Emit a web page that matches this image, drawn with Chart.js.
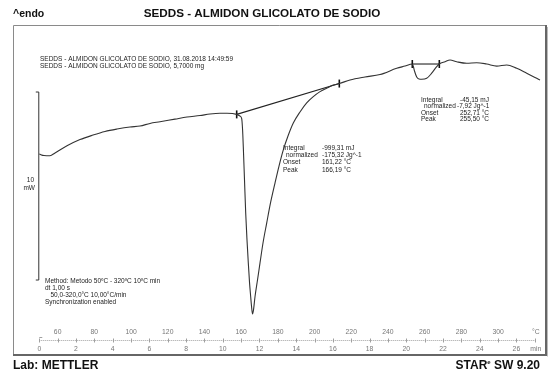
<!DOCTYPE html>
<html><head><meta charset="utf-8">
<script src="https://cdn.jsdelivr.net/npm/chart.js@4/dist/chart.umd.min.js"></script>
<style>html,body{margin:0;padding:0;background:#fff}canvas{display:block}</style>
</head><body>
<canvas id="c" width="557" height="381"></canvas>
<script>
// DSC curve: temperature (°C) vs heat flow (mW)
const temperature = [50.0,52.56,55.83,58.56,65.10,72.18,79.26,85.80,92.34,99.43,104.88,110.33,115.78,123.95,130.49,137.57,143.02,148.47,152.29,157.57,159.37,160.30,160.79,161.17,161.83,162.48,163.19,163.90,164.55,165.20,165.64,166.19,166.73,167.55,168.91,170.28,171.91,173.92,176.0,178.45,180.63,182.97,185.53,188.42,192.07,195.72,199.15,202.97,206.78,210.22,213.49,219.32,227.49,235.67,244.77,249.29,253.27,253.92,254.47,255.67,256.92,258.39,261.12,263.84,266.57,267.99,271.09,273.82,277.47,282.92,288.37,293.82,299.26,304.71,310.16,315.61,321.06,322.86];
const heatFlow = [0.05,-0.03,-0.04,0.11,0.49,0.82,1.06,1.25,1.38,1.49,1.54,1.68,1.77,1.91,2.02,2.10,2.18,2.22,2.22,2.16,2.07,1.94,1.33,0.44,-1.33,-3.09,-4.52,-5.74,-6.76,-7.54,-8.03,-8.46,-8.24,-7.54,-6.65,-5.74,-4.68,-3.62,-2.55,-1.49,-0.59,0.27,1.01,1.70,2.29,2.77,3.09,3.37,3.56,3.72,3.80,3.99,4.15,4.28,4.61,4.73,4.84,4.68,4.47,4.15,4.04,4.03,4.08,4.35,4.70,4.84,4.96,5.05,4.96,4.88,4.91,4.84,4.73,4.79,4.61,4.35,4.08,3.99];
// integration baselines
const baseline1T = [157.57, 213.49];
const baseline1Y = [2.16, 3.80];
const baseline2T = [253.27, 267.99];
const baseline2Y = [4.84, 4.84];
// axis ticks
const tempTickLabels = [60,80,100,120,140,160,180,200,220,240,260,280,300];
const timeTickLabels = [0,2,4,6,8,10,12,14,16,18,20,22,24,26];
const minorTicks = [50,60,70,80,90,100,110,120,130,140,150,160,170,180,190,200,210,220,230,240,250,260,270,280,290,300,310,320];
const tempUnit = '°C';
const timeUnit = 'min';
const scaleBarTopMw = 3.35;
const scaleBarMw = 10;
// texts
const title = 'SEDDS - ALMIDON GLICOLATO DE SODIO';
const sampleLines = ['SEDDS - ALMIDON GLICOLATO DE SODIO, 31.08.2018 14:49:59','SEDDS - ALMIDON GLICOLATO DE SODIO, 5,7000 mg'];
const methodLines = ['Method: Metodo 50ºC - 320ºC 10ºC min','dt 1,00 s','   50,0-320,0°C 10,00°C/min','Synchronization enabled'];
const peak1Labels = ['Integral','normalized','Onset','Peak'];
const peak1Values = ['-999,31 mJ','-175,32 Jg^-1','161,22 °C','166,19 °C'];
const peak2Labels = ['Integral','normalized','Onset','Peak'];
const peak2Values = ['-45,15 mJ','-7,92 Jg^-1','252,71 °C','255,50 °C'];

const FR = {l:13, t:25, r:546, b:355};
const SMALL = '6.5px "Liberation Sans", Arial, sans-serif';

const curve = temperature.map((t,i)=>({x:t,y:heatFlow[i]}));
const base1 = baseline1T.map((t,i)=>({x:t,y:baseline1Y[i]}));
const base2 = baseline2T.map((t,i)=>({x:t,y:baseline2Y[i]}));

const decor = {
  id:'decor',
  afterDraw(chart){
    const ctx = chart.ctx, xs = chart.scales.x, ys = chart.scales.y;
    ctx.save();
    // frame
    ctx.strokeStyle = '#8a8a8a'; ctx.lineWidth = 1;
    ctx.beginPath();
    ctx.moveTo(FR.l+0.5, FR.b); ctx.lineTo(FR.l+0.5, FR.t+0.5); ctx.lineTo(FR.r, FR.t+0.5);
    ctx.stroke();
    ctx.strokeStyle = '#666'; ctx.lineWidth = 2;
    ctx.beginPath();
    ctx.moveTo(FR.r, FR.t); ctx.lineTo(FR.r, FR.b); ctx.lineTo(FR.l, FR.b);
    ctx.stroke();
    ctx.strokeStyle = '#bbb'; ctx.lineWidth = 1;
    ctx.beginPath(); ctx.moveTo(FR.r+1.5, FR.t+2); ctx.lineTo(FR.r+1.5, FR.b+1.5); ctx.stroke();

    // headings
    ctx.fillStyle = '#111'; ctx.textBaseline = 'middle';
    ctx.font = 'bold 10.5px "Liberation Sans", Arial, sans-serif';
    ctx.textAlign = 'left'; ctx.fillText('^endo', 13, 14);
    ctx.font = 'bold 11.7px "Liberation Sans", Arial, sans-serif';
    ctx.textAlign = 'center'; ctx.fillText(title, 262, 14);
    ctx.font = 'bold 12px "Liberation Sans", Arial, sans-serif';
    ctx.textAlign = 'left'; ctx.fillText('Lab: METTLER', 13, 366);
    // STARe SW 9.20
    const right = 540;
    const w2 = ctx.measureText(' SW 9.20').width;
    ctx.textAlign = 'right'; ctx.fillText(' SW 9.20', right, 366);
    ctx.font = 'bold 6px "Liberation Sans", Arial, sans-serif';
    const we = ctx.measureText('e').width;
    ctx.fillText('e', right - w2, 362);
    ctx.font = 'bold 12px "Liberation Sans", Arial, sans-serif';
    ctx.fillText('STAR', right - w2 - we, 366);

    // small texts
    ctx.font = SMALL; ctx.fillStyle = '#222'; ctx.textAlign = 'left';
    sampleLines.forEach((s,i)=>ctx.fillText(s, 40, 59 + i*7));
    methodLines.forEach((s,i)=>ctx.fillText(s, 45, 281 + i*7.2));
    peak1Labels.forEach((s,i)=>{ ctx.fillText(s, i===1?286:283, 148 + i*7.3); ctx.fillText(peak1Values[i], 322, 148 + i*7.3); });
    peak2Labels.forEach((s,i)=>{ ctx.fillText(s, i===1?424:421, 100 + i*6.4); ctx.fillText(peak2Values[i], i===1?457:460, 100 + i*6.4); });

    // scale bar 10 mW
    const sx = xs.getPixelForValue(temperature[0]) - 0.5;
    const yTop = ys.getPixelForValue(scaleBarTopMw), yBot = ys.getPixelForValue(scaleBarTopMw - scaleBarMw);
    ctx.strokeStyle = '#333'; ctx.lineWidth = 1;
    ctx.beginPath();
    ctx.moveTo(sx-3, yTop); ctx.lineTo(sx, yTop); ctx.lineTo(sx, yBot); ctx.lineTo(sx-3, yBot);
    ctx.stroke();
    ctx.textAlign = 'right';
    ctx.fillText('10', 34, 180); ctx.fillText('mW', 35, 188);

    // bottom axis
    const ay = 340.5;
    const x0 = xs.getPixelForValue(50), x1 = xs.getPixelForValue(320);
    ctx.strokeStyle = '#a0a0a0'; ctx.setLineDash([1,1]);
    ctx.beginPath(); ctx.moveTo(x0, ay); ctx.lineTo(x1, ay); ctx.stroke();
    ctx.setLineDash([]);
    ctx.beginPath();
    minorTicks.forEach(t=>{ const px = Math.round(xs.getPixelForValue(t))+0.5; ctx.moveTo(px, ay-2); ctx.lineTo(px, ay+2); });
    ctx.moveTo(x0, ay-3); ctx.lineTo(x0+3, ay-3);
    ctx.stroke();
    ctx.fillStyle = '#777'; ctx.textAlign = 'center';
    ctx.font = '6.8px "Liberation Sans", Arial, sans-serif';
    tempTickLabels.forEach(t=>ctx.fillText(String(t), xs.getPixelForValue(t), 332));
    ctx.fillText(tempUnit, xs.getPixelForValue(320)+1, 332);
    timeTickLabels.forEach(m=>ctx.fillText(String(m), xs.getPixelForValue(50 + 10*m), 349));
    ctx.fillText(timeUnit, xs.getPixelForValue(320)+1, 349);
    ctx.restore();
  }
};

new Chart(document.getElementById('c'), {
  type: 'scatter',
  data: { datasets: [
    { data: curve, showLine: true, borderColor: '#333', borderWidth: 1.1, pointRadius: 0, cubicInterpolationMode: 'monotone', fill: false },
    { data: base1, showLine: true, borderColor: '#222', borderWidth: 1.1, pointStyle: 'line', rotation: 90, pointRadius: 4, pointBorderWidth: 1.6, pointBorderColor: '#111' },
    { data: base2, showLine: true, borderColor: '#222', borderWidth: 1.1, pointStyle: 'line', rotation: 90, pointRadius: 4, pointBorderWidth: 1.6, pointBorderColor: '#111' }
  ]},
  options: {
    responsive: false, animation: false, devicePixelRatio: 1,
    layout: { padding: { left: FR.l, right: 557 - FR.r, top: FR.t, bottom: 381 - FR.b } },
    plugins: { legend: { display: false }, tooltip: { enabled: false } },
    scales: {
      x: { type: 'linear', display: false, min: 35.67, max: 326.13 },
      y: { type: 'linear', display: false, min: -10.638, max: 6.915 }
    }
  },
  plugins: [decor]
});
</script>
</body></html>
